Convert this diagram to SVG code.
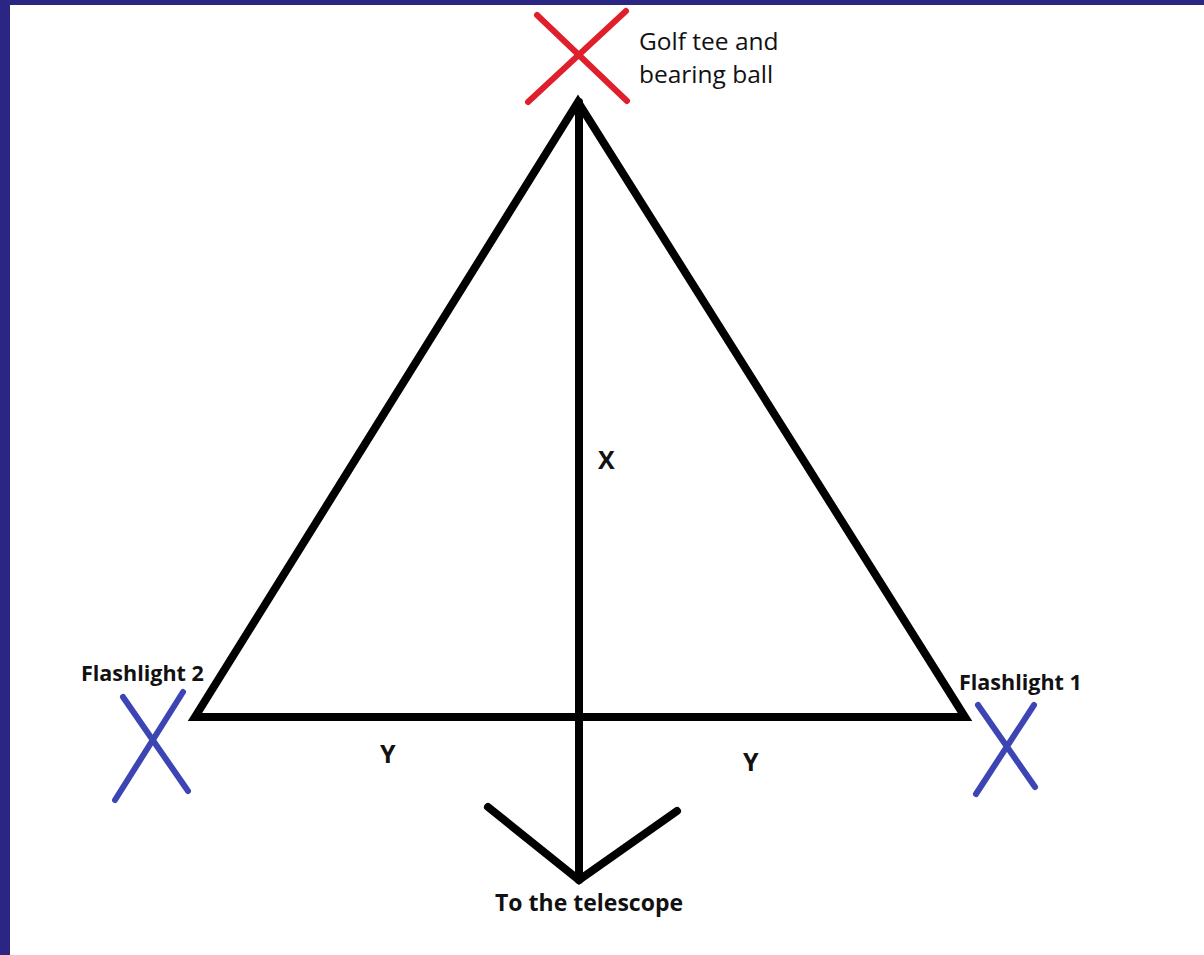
<svg xmlns="http://www.w3.org/2000/svg" width="1204" height="955" viewBox="0 0 1204 955">
<style>
.ln{stroke:#000;stroke-width:8;stroke-linecap:round;stroke-linejoin:miter;fill:none}
.rx{stroke:#e01f2d;stroke-width:6;stroke-linecap:round}
.bx{stroke:#3d45b4;stroke-width:6;stroke-linecap:round}
.t{font-family:"Open Sans","Liberation Sans",sans-serif;fill:#111}
.reg{font-size:24.5px}
.b{font-size:21.5px;font-weight:bold}
.tel{font-size:23px;font-weight:bold}
.lab{font-size:25px;font-weight:bold}
</style>
<rect x="0" y="0" width="1204" height="955" fill="#ffffff"/>
<rect x="0" y="0" width="1204" height="5" fill="#2b2683"/>
<rect x="0" y="0" width="10" height="955" fill="#2b2683"/>
<g id="connectors">
<polygon class="ln" points="578,102 195,717 965,717"/>
<line class="ln" x1="579" y1="102" x2="579" y2="880"/>
<polyline class="ln" points="488,807 579,880 677,811"/>
</g>
<g id="golf-tee">
<line class="rx" x1="537" y1="15" x2="627" y2="101"/>
<line class="rx" x1="626" y1="11" x2="528" y2="102"/>
<text class="t reg" x="639" y="50">Golf tee and</text>
<text class="t reg" x="639" y="83">bearing ball</text>
</g>
<g id="flashlight-2">
<line class="bx" x1="183" y1="692" x2="115" y2="800"/>
<line class="bx" x1="123" y1="697" x2="188" y2="791"/>
<text class="t b" x="81" y="681">Flashlight 2</text>
</g>
<g id="flashlight-1">
<line class="bx" x1="978" y1="705" x2="1035" y2="787"/>
<line class="bx" x1="1034" y1="705" x2="976" y2="794"/>
<text class="t b" x="959" y="690">Flashlight 1</text>
</g>
<g id="labels">
<text class="t lab" x="598" y="469">X</text>
<text class="t lab" x="380" y="763">Y</text>
<text class="t lab" x="743" y="771">Y</text>
<text class="t tel" x="495" y="911">To the telescope</text>
</g>
</svg>
